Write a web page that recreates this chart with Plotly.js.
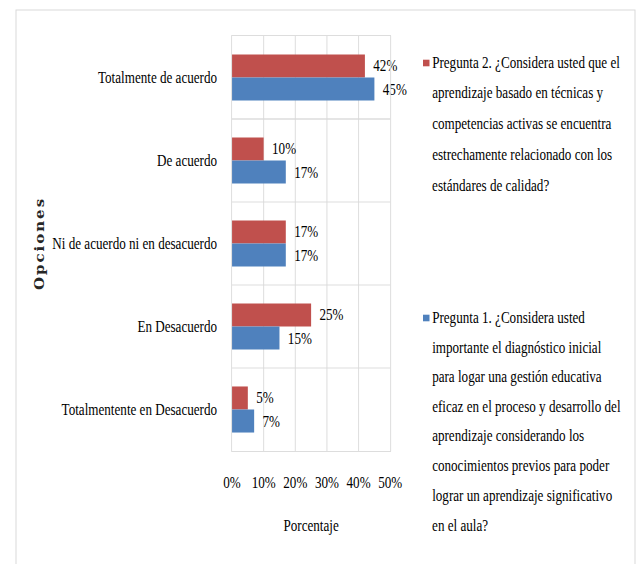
<!DOCTYPE html>
<html><head><meta charset="utf-8">
<script src="https://cdn.plot.ly/plotly-3.0.1.min.js"></script>
<style>
html,body{margin:0;padding:0;overflow:hidden;background:#fff;width:637px;height:564px}
#chart{width:777px;height:564px;transform:scaleX(0.8198);transform-origin:0 0;}
</style>
</head><body><div id="chart"></div>
<script>
// ---- data ----
const categories = ["Totalmente de acuerdo", "De acuerdo", "Ni de acuerdo ni en desacuerdo", "En Desacuerdo", "Totalmentente en Desacuerdo"];
const pregunta2Values = [0.42, 0.10, 0.17, 0.25, 0.05];
const pregunta1Values = [0.45, 0.17, 0.17, 0.15, 0.07];
const pregunta2Lines = ["Pregunta 2. ¿Considera usted que el", "aprendizaje basado en técnicas y", "competencias activas se encuentra", "estrechamente relacionado con los", "estándares de calidad?"];
const pregunta1Lines = ["Pregunta 1. ¿Considera usted", "importante el diagnóstico inicial", "para logar una gestión educativa", "eficaz en el proceso y desarrollo del", "aprendizaje considerando los", "conocimientos previos para poder", "lograr un aprendizaje significativo", "en el aula?"];
const xTickValues = [0, 0.1, 0.2, 0.3, 0.4, 0.5];
const xTickLabels = ["0%", "10%", "20%", "30%", "40%", "50%"];
const xTitle = "Porcentaje";
const yTitle = "Opciones";

// ---- styling ----
const colorP2 = "#C0504D", colorP1 = "#4F81BD", gridColor = "#d9d9d9";
const serif = "Liberation Serif, Times New Roman, serif";
const S = 0.8198, W = 777, H = 564;
const M = {l: 283, r: 301, t: 36, b: 113};
const pw = W - M.l - M.r, ph = H - M.t - M.b;
const px = x => (x / S - M.l) / pw;      // screen x -> paper
const py = y => 1 - (y - M.t) / ph;      // screen y -> paper
const baseFont = {family: serif, size: 16, color: "#000"};

const traces = [
  {type: "bar", orientation: "h", y: categories, x: pregunta2Values,
   name: pregunta2Lines.join(" "), marker: {color: colorP2},
   texttemplate: "\u00a0\u2009%{x:.0%}", textposition: "outside", cliponaxis: false,
   constraintext: "none", textfont: baseFont, hoverinfo: "skip"},
  {type: "bar", orientation: "h", y: categories, x: pregunta1Values,
   name: pregunta1Lines.join(" "), marker: {color: colorP1},
   texttemplate: "\u00a0\u2009%{x:.0%}", textposition: "outside", cliponaxis: false,
   constraintext: "none", textfont: baseFont, hoverinfo: "skip"}
];

const annotations = [];
const shapes = [];
function addLegend(lines, color, y0, step) {
  shapes.push({type: "rect", xref: "paper", yref: "paper",
    x0: px(423), x1: px(429.5), y0: py(y0 - 3.3), y1: py(y0 + 3.3),
    fillcolor: color, line: {width: 0}});
  lines.forEach((ln, i) => annotations.push({xref: "paper", yref: "paper",
    x: px(430.5), y: py(y0 + step * i), xanchor: "left", yanchor: "middle",
    text: ln, showarrow: false, font: baseFont}));
}
addLegend(pregunta2Lines, colorP2, 63, 30.5);
addLegend(pregunta1Lines, colorP1, 318, 29.6);

shapes.push({type: "rect", xref: "paper", yref: "paper", layer: "below",
  x0: px(16), x1: px(635), y0: py(10), y1: py(620),
  line: {color: gridColor, width: 1.2}, fillcolor: "rgba(0,0,0,0)"});

const layout = {
  width: W, height: H, margin: M, showlegend: false,
  paper_bgcolor: "#fff", plot_bgcolor: "#fff",
  font: baseFont, barmode: "group", bargap: 0.445, bargroupgap: 0,
  xaxis: {range: [0, 0.5], tickvals: xTickValues, ticktext: xTickLabels,
    showgrid: true, gridcolor: gridColor, zeroline: false,
    showline: true, mirror: true, linecolor: gridColor, ticks: "",
    ticklabelstandoff: 17, automargin: false, fixedrange: true,
    title: {text: xTitle, standoff: 29, font: baseFont}},
  yaxis: {type: "category", categoryorder: "array", categoryarray: categories,
    autorange: "reversed", tickson: "boundaries", showgrid: true, gridcolor: gridColor,
    showline: true, mirror: true, linecolor: gridColor, ticks: "",
    ticklabelstandoff: 14, automargin: false, fixedrange: true,
    title: {text: yTitle, standoff: 5,
      font: {family: "DejaVu Serif", size: 15, weight: "bold", color: "#262626"}}},
  shapes: shapes, annotations: annotations
};

Plotly.newPlot("chart", traces, layout, {staticPlot: true, displayModeBar: false}).then(() => {
  const t = document.querySelector(".g-ytitle text");
  if (t) t.style.letterSpacing = "2px";
});
</script>
</body></html>
